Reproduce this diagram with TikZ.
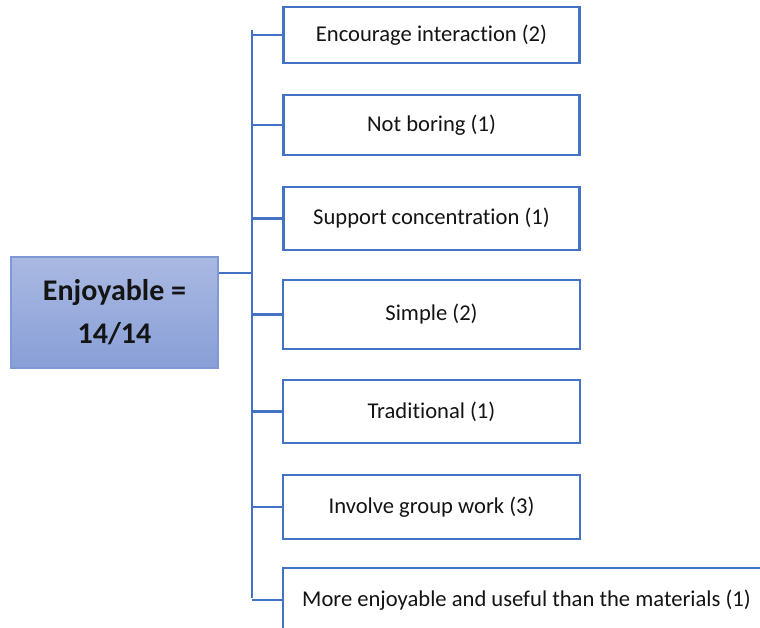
\documentclass[tikz,border=0pt]{standalone}
\usepackage{fontspec}
\setmainfont{Carlito}[Ligatures={NoCommon,NoRare}]
\definecolor{linkblue}{HTML}{4472C4}
\definecolor{topfill}{HTML}{AAB9E2}
\definecolor{botfill}{HTML}{889FD7}
\definecolor{mainedge}{HTML}{7E99D4}
\definecolor{ink}{HTML}{141414}
\begin{document}
\begin{tikzpicture}[x=1pt,y=-1pt,
  leaf/.style={draw=linkblue, line width=2.2pt, fill=white, text=ink,
    font=\fontsize{22.6}{26}\selectfont, inner sep=0pt},
  root/.style={draw=mainedge, line width=1.4pt, top color=topfill, bottom color=botfill,
    text=ink, font=\fontsize{30}{43}\selectfont\bfseries, align=center, inner sep=0pt},
  link/.style={draw=linkblue, line width=2.2pt}]
\useasboundingbox (0,0) rectangle (760,627);
\clip (0,0) rectangle (760,627);

% root node
\node[root, minimum width=207pt, minimum height=111pt] (main) at (114.5,312.5)
  {Enjoyable =\\14/14};

% leaf nodes
\node[leaf, minimum width=296pt, minimum height=56pt] (b1) at (431.5,35) {Encourage interaction (2)};
\node[leaf, minimum width=296pt, minimum height=60pt] (b2) at (431.5,125) {Not boring (1)};
\node[leaf, minimum width=296pt, minimum height=63pt] (b3) at (431.5,218.5) {Support concentration (1)};
\node[leaf, minimum width=297pt, minimum height=69pt] (b4) at (431.5,314.5) {Simple (2)};
\node[leaf, minimum width=297pt, minimum height=63pt] (b5) at (431.5,411.5) {Traditional (1)};
\node[leaf, minimum width=297pt, minimum height=64pt] (b6) at (431.5,507) {Involve group work (3)};
\node[leaf, minimum width=487pt, minimum height=64pt] (b7) at (526.5,600) {More enjoyable and useful than the materials (1)};

% trunk
\coordinate (trunktop) at (252,30);
\coordinate (trunkbot) at (252,598);
\coordinate (join) at (252,273);
\draw[link] (trunktop) -- (trunkbot);
\draw[link] (main.east |- join) -- (join);

% branches
\foreach \b in {b1,b2,b3,b4,b5,b6,b7}
  \draw[link] (\b.west -| trunktop) -- (\b.west);
\end{tikzpicture}
\end{document}
